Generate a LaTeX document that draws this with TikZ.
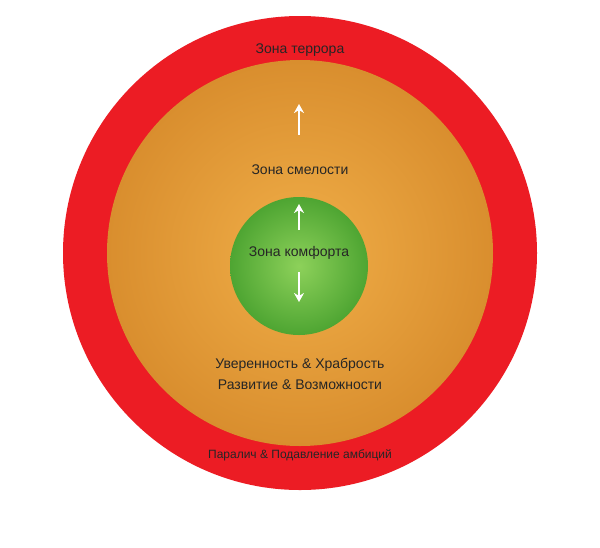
\documentclass[tikz,border=0pt]{standalone}
\usepackage{fontspec}
\setmainfont{Liberation Sans}
\usetikzlibrary{arrows.meta}
\begin{document}
\begin{tikzpicture}[x=1pt,y=-1pt,
  lbl/.style={font=\fontsize{14}{16}\selectfont,text=black!85},
  arr/.style={white,line width=2.5pt,-{Stealth[length=9pt,width=10pt]}}]
\useasboundingbox (0,0) rectangle (600,547);
\fill[white] (0,0) rectangle (600,547);
\definecolor{redz}{HTML}{EC1C24}
\definecolor{orz}{HTML}{D98E2E}
\definecolor{orzin}{HTML}{F0AE48}
\definecolor{grz}{HTML}{4EA532}
\definecolor{grzin}{HTML}{8DD15A}
\node[circle,minimum size=474pt,inner sep=0,fill=redz] (outer) at (300,253) {};
\node[circle,minimum size=386pt,inner sep=0,inner color=orzin,outer color=orz] (mid) at (300,253) {};
\node[circle,minimum size=138pt,inner sep=0,inner color=grzin,outer color=grz] (inner) at (299,266) {};
\node[lbl] (t1) at (300,50) {Зона террора};
\node[lbl] (t2) at (300,170) {Зона смелости};
\node[lbl] (t3) at (299,253) {Зона комфорта};
\node[lbl] (t4) at (300,365) {Уверенность \& Храбрость};
\node[lbl] (t5) at (300,385) {Развитие \& Возможности};
\node[lbl,font=\fontsize{12}{14}\selectfont] (t6) at (300,455) {Паралич \& Подавление амбиций};
\coordinate (a1s) at (299,135); \coordinate (a1e) at (299,104);
\coordinate (a2s) at (299,230); \coordinate (a2e) at (299,204);
\coordinate (a3s) at (299,272); \coordinate (a3e) at (299,302);
\draw[arr] (a1s) -- (a1e);
\draw[arr] (a2s) -- (a2e);
\draw[arr] (a3s) -- (a3e);
\end{tikzpicture}
\end{document}
